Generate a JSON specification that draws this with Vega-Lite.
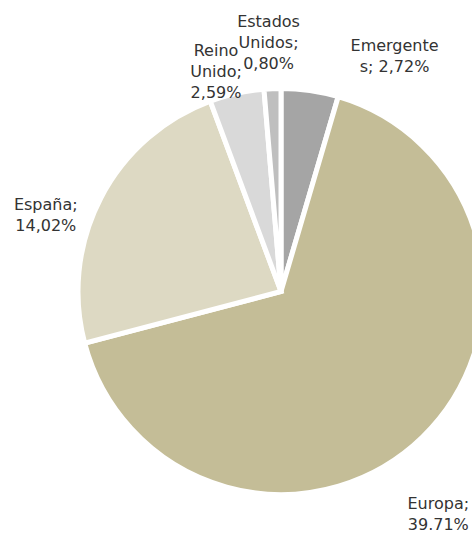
{
  "$schema": "https://vega.github.io/schema/vega-lite/v6.json",
  "autosize": "none",
  "width": 382,
  "height": 483,
  "padding": {"left": 90, "top": 50, "right": 0, "bottom": 0},
  "background": "white",
  "view": {"stroke": null},
  "data": {
    "values": [
      {"cat": "Emergentes", "valor": 2.72, "etiqueta": "Emergente\ns; 2,72%"},
      {"cat": "Europa", "valor": 39.71, "etiqueta": "Europa;\n39.71%"},
      {"cat": "España", "valor": 14.02, "etiqueta": "España;\n14,02%"},
      {"cat": "Reino Unido", "valor": 2.59, "etiqueta": "Reino\nUnido;\n2,59%"},
      {"cat": "Estados Unidos", "valor": 0.80, "etiqueta": "Estados\nUnidos;\n0,80%"}
    ]
  },
  "transform": [{"window": [{"op": "row_number", "as": "orden"}]}],
  "encoding": {
    "theta": {"field": "valor", "type": "quantitative", "stack": true},
    "order": {"field": "orden", "type": "quantitative"}
  },
  "layer": [
    {
      "mark": {"type": "arc", "outerRadius": 203, "stroke": "white", "strokeWidth": 5},
      "encoding": {
        "color": {
          "field": "cat", "type": "nominal", "legend": null,
          "scale": {
            "domain": ["Emergentes", "Europa", "España", "Reino Unido", "Estados Unidos"],
            "range": ["#a5a5a5", "#c4bd97", "#ddd9c3", "#d9d9d9", "#bfbfbf"]
          }
        }
      }
    },
    {
      "mark": {"type": "text", "radius": 249, "dx": -2, "dy": -21, "lineBreak": "\n", "font": "DejaVu Sans", "fontSize": 16, "lineHeight": 21, "color": "#333333"},
      "encoding": {"text": {"condition": {"test": "datum.cat === 'Estados Unidos'", "field": "etiqueta"}, "value": ""}}
    },
    {
      "mark": {"type": "text", "radius": 229, "dx": -15, "dy": -17, "lineBreak": "\n", "font": "DejaVu Sans", "fontSize": 16, "lineHeight": 21, "color": "#333333"},
      "encoding": {"text": {"condition": {"test": "datum.cat === 'Reino Unido'", "field": "etiqueta"}, "value": ""}}
    },
    {
      "mark": {"type": "text", "radius": 250, "dx": 78, "dy": 2, "lineBreak": "\n", "font": "DejaVu Sans", "fontSize": 16, "lineHeight": 21, "color": "#333333"},
      "encoding": {"text": {"condition": {"test": "datum.cat === 'Emergentes'", "field": "etiqueta"}, "value": ""}}
    },
    {
      "mark": {"type": "text", "radius": 247, "dx": -16, "dy": 27, "lineBreak": "\n", "font": "DejaVu Sans", "fontSize": 16, "lineHeight": 21, "color": "#333333"},
      "encoding": {"text": {"condition": {"test": "datum.cat === 'España'", "field": "etiqueta"}, "value": ""}}
    },
    {
      "mark": {"type": "text", "radius": 273, "dx": -33, "dy": 17, "lineBreak": "\n", "font": "DejaVu Sans", "fontSize": 16, "lineHeight": 21, "color": "#333333"},
      "encoding": {"text": {"condition": {"test": "datum.cat === 'Europa'", "field": "etiqueta"}, "value": ""}}
    }
  ]
}
